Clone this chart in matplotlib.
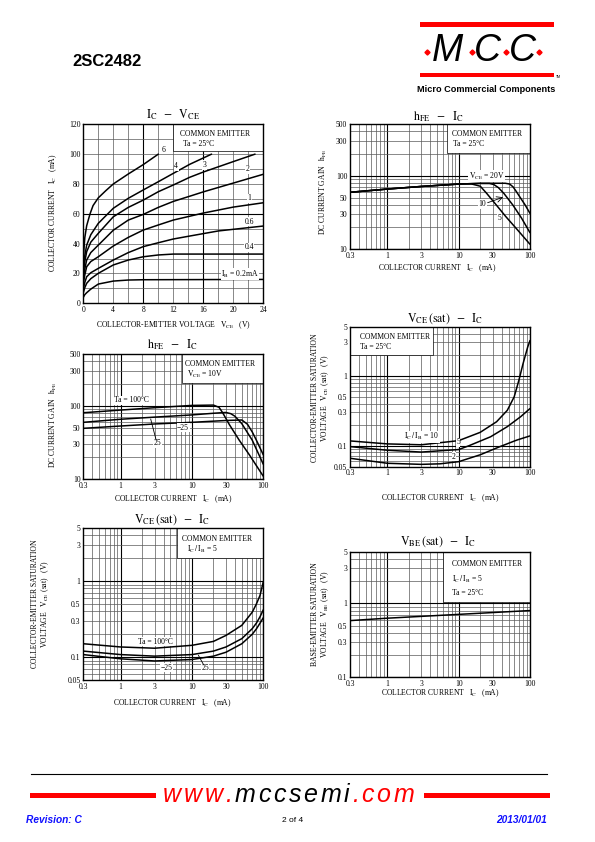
import matplotlib.pyplot as plt
from matplotlib.patches import Rectangle
from matplotlib.lines import Line2D
from matplotlib.ticker import NullLocator

plt.rcParams['font.family'] = ['Liberation Serif', 'DejaVu Serif']
plt.rcParams['mathtext.fontset'] = 'stix'

# ---------------- data ----------------
# IC - VCE, common emitter, Ta = 25C  (VCE in V, IC in mA)
vce_ib6 = [0, 0.2, 0.45, 0.9, 1.3, 2, 3, 4, 6, 8, 10]
ic_ib6 = [30, 44, 52, 60, 65.5, 70.7, 75.5, 80, 86.7, 93, 100]
vce_ib4 = [0, 0.2, 0.45, 1, 2, 4, 6, 8, 10, 12, 14.2, 17.1]
ic_ib4 = [24, 32, 39, 46, 53.6, 63.7, 70.4, 76, 81.5, 87.1, 93.2, 100]
vce_ib3 = [0, 0.2, 0.45, 1, 2, 4, 6, 8, 10, 12, 14.2, 16, 20, 22.9]
ic_ib3 = [20, 28, 34.6, 41, 46.9, 58, 64.3, 69.2, 74.8, 79.3, 84.5, 88, 95, 100]
vce_ib2 = [0, 0.2, 0.45, 1, 2, 4, 6, 8, 10, 12, 14.2, 16, 20, 24]
ic_ib2 = [16, 23, 29, 34, 39, 49, 55.8, 59.6, 64.3, 68.3, 71.8, 74.7, 80.6, 86.5]
vce_ib1 = [0, 0.2, 0.45, 1, 2, 4, 6, 8, 10, 12, 16, 20, 24]
ic_ib1 = [13, 19, 24.5, 28, 31.2, 38.4, 44.2, 49.1, 52.5, 55.8, 60.5, 64.5, 67.4]
vce_ib06 = [0, 0.2, 0.45, 1, 2, 4, 6, 8, 10, 12, 14.2, 18, 24]
ic_ib06 = [9.5, 14, 17.8, 20.5, 23.4, 29, 34, 38, 40.6, 43.1, 45.1, 48.5, 51.8]
vce_ib04 = [0, 0.2, 0.45, 1, 2, 4, 6, 8, 10, 12, 16, 24]
ic_ib04 = [7, 10.5, 13.4, 16.5, 20.1, 25.7, 29, 31.2, 32.4, 33, 33, 33]
vce_ib02 = [0, 0.2, 0.45, 1, 2, 4, 6, 8, 24]
ic_ib02 = [4, 5.8, 7.1, 9.5, 12.9, 14.9, 15.6, 15.8, 16]

# hFE - IC, Ta = 25C, for VCE = 5, 10, 20 V
ic_v5 = [0.3, 1, 3, 10, 15, 20.1, 24.7, 33.7, 46, 67, 100]
hfe_v5 = [59.5, 65.9, 71.5, 77, 77.5, 72, 57.6, 40, 27.7, 18.3, 11.7]
ic_v10 = [0.3, 1, 3, 10, 20, 27, 31, 36, 43, 58, 76, 100]
hfe_v10 = [59.5, 65.9, 71.5, 77.1, 78.7, 78.5, 76, 69, 57.6, 39.5, 26.6, 16.8]
ic_v20 = [0.3, 1, 3, 10, 20, 30, 45, 52, 58, 65, 72.5, 85, 100]
hfe_v20 = [59.5, 65.9, 71.5, 77.1, 78.7, 79, 79, 77, 70.4, 60, 51, 40.4, 30.8]

# VCE(sat) - IC, Ta = 25C, for IC/IB = 10, 5, 2
ic_r10 = [0.3, 1, 3, 10, 20, 34, 48, 60, 70, 80, 93, 100]
vsat_r10 = [0.117, 0.106, 0.103, 0.118, 0.155, 0.22, 0.32, 0.5, 0.87, 1.5, 2.6, 3.2]
ic_r5 = [0.3, 1, 3, 10, 14, 28, 48, 74, 100]
vsat_r5 = [0.097, 0.086, 0.081, 0.088, 0.1, 0.134, 0.187, 0.26, 0.34]
ic_r2 = [0.3, 1, 3, 5.5, 10, 20, 38, 65, 100]
vsat_r2 = [0.066, 0.056, 0.054, 0.055, 0.059, 0.074, 0.097, 0.12, 0.138]

# hFE - IC, VCE = 10V, for Ta = 100, 25, -25 C
ic_t100 = [0.3, 1, 3, 10, 20, 24, 27, 33.6, 46, 64, 100]
hfe_t100 = [80.3, 87.3, 94, 101, 102, 95, 80, 55, 34, 21.4, 11]
ic_t25 = [0.3, 1, 3, 10, 20, 30, 35, 40, 50, 70, 100]
hfe_t25 = [59.5, 65.5, 70, 75, 79, 81, 78, 72, 57, 34, 16]
ic_tm25 = [0.3, 1, 3, 10, 30, 50, 60, 70, 80, 100]
hfe_tm25 = [49.3, 53, 56.5, 59.5, 63, 64, 56, 44, 34, 21.5]

# VCE(sat) - IC, IC/IB = 5, for Ta = 100, 25, -25 C
ic_s = [0.3, 1, 3, 10, 20, 30, 50, 70, 80, 90, 100]
vsat_t100 = [0.150, 0.136, 0.131, 0.143, 0.161, 0.193, 0.262, 0.39, 0.5, 0.65, 0.98]
vsat_t25 = [0.12, 0.108, 0.103, 0.108, 0.12, 0.136, 0.175, 0.237, 0.28, 0.34, 0.42]
vsat_tm25 = [0.108, 0.095, 0.089, 0.093, 0.103, 0.116, 0.15, 0.2, 0.235, 0.28, 0.33]

# VBE(sat) - IC, IC/IB = 5, Ta = 25C
ic_vbe = [0.3, 1, 10, 100]
vbe_sat = [0.584, 0.63, 0.71, 0.80]

# tick labels
ic_ticks = [0.3, 1, 3, 10, 30, 100]
ic_ticklabels = ['0.3', '1', '3', '10', '30', '100']
hfe_ticks = [10, 30, 50, 100, 300, 500]
vsat_ticks = [0.05, 0.1, 0.3, 0.5, 1, 3, 5]
vbe_ticks = [0.1, 0.3, 0.5, 1, 3, 5]

# ---------------- page helpers ----------------
W, H = 595, 842
fig = plt.figure(figsize=(W / 100, H / 100), dpi=100)
fig.patch.set_facecolor('white')


def page_axes(l, t, r, b):
    ax = fig.add_axes([l / W, 1 - b / H, (r - l) / W, (b - t) / H])
    ax.pix = (l, t, r, b)
    for s in ax.spines.values():
        s.set_linewidth(1.0)
    ax.tick_params(length=0, pad=2, labelsize=5.5)
    return ax


def ftext(x, y, s, **kw):
    return fig.text(x / W, 1 - y / H, s, **kw)


def frect(l, t, r, b, color):
    fig.add_artist(Rectangle((l / W, 1 - b / H), (r - l) / W, (b - t) / H,
                             transform=fig.transFigure, fc=color, ec='none'))


def log_values(lo, hi):
    vals = []
    for dec in [0.01, 0.1, 1, 10, 100]:
        for m in range(1, 10):
            v = round(m * dec, 6)
            if lo - 1e-9 <= v <= hi + 1e-9:
                vals.append(v)
    return vals


def log_setup(ax, xlo, xhi, ylo, yhi, yticks):
    ax.set_xscale('log')
    ax.set_yscale('log')
    ax.set_xlim(xlo, xhi)
    ax.set_ylim(ylo, yhi)
    for v in log_values(xlo, xhi):
        major = v in (1, 10, 100)
        ax.axvline(v, color='0.0' if major else '0.35', lw=0.8 if major else 0.5, zorder=1)
    for v in log_values(ylo, yhi):
        major = v in (0.1, 1, 10, 100)
        ax.axhline(v, color='0.0' if major else '0.35', lw=0.8 if major else 0.5, zorder=1)
    ax.xaxis.set_minor_locator(NullLocator())
    ax.yaxis.set_minor_locator(NullLocator())
    ax.set_xticks(ic_ticks)
    ax.set_xticklabels(ic_ticklabels)
    ax.set_yticks(yticks)
    ax.set_yticklabels([('%g' % v) for v in yticks])


def legend_box(ax, l, t, r, b):
    al, at, ar, ab = ax.pix
    ax.add_patch(Rectangle(((l - al) / (ar - al), (ab - b) / (ab - at)),
                           (r - l) / (ar - al), (b - t) / (ab - at),
                           transform=ax.transAxes, fc='white', ec='black',
                           lw=0.5, zorder=2))


def curve(ax, x, y):
    ax.plot(x, y, color='black', lw=1.1, zorder=3, solid_capstyle='round')


lab = dict(fontsize=5.5, ha='center', va='center', zorder=4,
           bbox=dict(fc='white', ec='none', pad=0.4))
small = dict(fontsize=5.5, ha='left', va='center')
xlab_kw = dict(fontsize=5.5, ha='center', va='center')
ylab_kw = dict(fontsize=5.5, ha='center', va='center', rotation=90)
title_kw = dict(fontsize=8.5, ha='center', va='center')

IC_LABEL = 'COLLECTOR CURRENT   ' + r'$\mathrm{I_C}$' + '   (mA)'

# ---------------- chart 1: IC - VCE ----------------
ax1 = page_axes(83.3, 124.3, 263.3, 303.3)
ax1.set_xlim(0, 24)
ax1.set_ylim(0, 120)
for v in range(2, 24, 2):
    ax1.axvline(v, color='0.0' if v in (8, 16) else '0.35', lw=0.8 if v in (8, 16) else 0.5, zorder=1)
for v in range(10, 120, 10):
    ax1.axhline(v, color='0.0' if v == 60 else '0.35', lw=0.8 if v == 60 else 0.5, zorder=1)
ax1.set_xticks(range(0, 25, 4))
ax1.set_yticks(range(0, 121, 20))
legend_box(ax1, 173, 124.3, 263.3, 151)
for x, y in [(vce_ib6, ic_ib6), (vce_ib4, ic_ib4), (vce_ib3, ic_ib3), (vce_ib2, ic_ib2),
             (vce_ib1, ic_ib1), (vce_ib06, ic_ib06), (vce_ib04, ic_ib04), (vce_ib02, ic_ib02)]:
    curve(ax1, x, y)
ax1.text(10.7, 102.8, '6', **lab)
ax1.text(12.4, 92, '4', **lab)
ax1.text(16.2, 92.7, '3', **lab)
ax1.text(21.9, 89.8, '2', **lab)
ax1.text(22.1, 70.4, '1', **lab)
ax1.text(22.1, 54.7, '0.6', **lab)
ax1.text(22.1, 37.5, '0.4', **lab)
ax1.text(20.9, 19.6, r'$\mathrm{I_B}$' + ' = 0.2mA', **lab)
ftext(215, 134, 'COMMON EMITTER', fontsize=5.5, ha='center', va='center')
ftext(183, 144, 'Ta = 25°C', **small)
ftext(173, 115, r'$\mathrm{I_C\ \ -\ \ V_{CE}}$', **title_kw)
ftext(53, 213, 'COLLECTOR CURRENT   ' + r'$\mathrm{I_C}$' + '   (mA)', **ylab_kw)
ftext(173, 325, 'COLLECTOR-EMITTER VOLTAGE   ' + r'$\mathrm{V_{CE}}$' + '   (V)', **xlab_kw)

# ---------------- chart 2: hFE - IC (VCE) ----------------
ax2 = page_axes(350, 124.3, 530, 249.3)
log_setup(ax2, 0.3, 100, 10, 500, hfe_ticks)
legend_box(ax2, 447, 124.3, 530, 153)
curve(ax2, ic_v5, hfe_v5)
curve(ax2, ic_v10, hfe_v10)
curve(ax2, ic_v20, hfe_v20)
ax2.text(24.9, 98.9, r'$\mathrm{V_{CE}}$' + ' = 20V', **lab)
ax2.text(21.6, 41.3, '10', **lab)
ax2.text(37.1, 26.9, '5', **lab)
ax2.annotate('', xy=(42, 51), xytext=(25.5, 43),
             arrowprops=dict(arrowstyle='->', lw=0.6, color='black', shrinkA=0, shrinkB=0), zorder=4)
ftext(487, 134, 'COMMON EMITTER', fontsize=5.5, ha='center', va='center')
ftext(453, 144, 'Ta = 25°C', **small)
ftext(438, 117, r'$\mathrm{h_{FE}\ \ -\ \ I_C}$', **title_kw)
ftext(323, 192, 'DC CURRENT GAIN   ' + r'$\mathrm{h_{FE}}$', **ylab_kw)
ftext(437, 268, IC_LABEL, **xlab_kw)

# ---------------- chart 3: VCE(sat) - IC (IC/IB) ----------------
ax3 = page_axes(350, 327, 530, 466.7)
log_setup(ax3, 0.3, 100, 0.05, 5, vsat_ticks)
legend_box(ax3, 350, 327, 433, 355)
curve(ax3, ic_r10, vsat_r10)
curve(ax3, ic_r5, vsat_r5)
curve(ax3, ic_r2, vsat_r2)
ax3.text(3.03, 0.134, r'$\mathrm{I_C\,/\,I_B}$' + ' = 10', **lab)
ax3.text(9.8, 0.112, '5', **lab)
ax3.text(8.6, 0.069, '2', **lab)
ftext(360, 337, 'COMMON EMITTER', **small)
ftext(360, 347, 'Ta = 25°C', **small)
ftext(445, 319, r'$\mathrm{V_{CE}\,(sat)\ \ -\ \ I_C}$', **title_kw)
ftext(315, 398, 'COLLECTOR-EMITTER SATURATION', **ylab_kw)
ftext(325, 398, 'VOLTAGE   ' + r'$\mathrm{V_{CE}}$' + ' (sat)   (V)', **ylab_kw)
ftext(440, 497.7, IC_LABEL, **xlab_kw)

# ---------------- chart 4: hFE - IC (Ta) ----------------
ax4 = page_axes(83.3, 354.3, 263.3, 479.3)
log_setup(ax4, 0.3, 100, 10, 500, hfe_ticks)
legend_box(ax4, 182, 354.3, 263.3, 383)
curve(ax4, ic_t100, hfe_t100)
curve(ax4, ic_t25, hfe_t25)
curve(ax4, ic_tm25, hfe_tm25)
ax4.text(1.43, 119, 'Ta = 100°C', **lab)
ax4.text(7.5, 49.9, '\u221225', **lab)
ax4.text(3.3, 31.1, '25', **lab)
ax4.annotate('', xy=(2.64, 66), xytext=(3.15, 34),
             arrowprops=dict(arrowstyle='-', lw=0.6, color='black', shrinkA=0, shrinkB=0), zorder=4)
ftext(220, 364, 'COMMON EMITTER', fontsize=5.5, ha='center', va='center')
ftext(187, 374, r'$\mathrm{V_{CE}}$' + ' = 10V', **small)
ftext(172, 345, r'$\mathrm{h_{FE}\ \ -\ \ I_C}$', **title_kw)
ftext(53, 425, 'DC CURRENT GAIN   ' + r'$\mathrm{h_{FE}}$', **ylab_kw)
ftext(173, 499, IC_LABEL, **xlab_kw)

# ---------------- chart 5: VCE(sat) - IC (Ta) ----------------
ax5 = page_axes(83.3, 528, 263.3, 680)
log_setup(ax5, 0.3, 100, 0.05, 5, vsat_ticks)
legend_box(ax5, 177, 528, 263.3, 558)
curve(ax5, ic_s, vsat_t100)
curve(ax5, ic_s, vsat_t25)
curve(ax5, ic_s, vsat_tm25)
ax5.text(3.04, 0.16, 'Ta = 100°C', **lab)
ax5.text(4.4, 0.0727, '\u221225', **lab)
ax5.text(15.3, 0.071, '25', **lab)
ax5.annotate('', xy=(12.3, 0.106), xytext=(14.6, 0.079),
             arrowprops=dict(arrowstyle='-', lw=0.6, color='black', shrinkA=0, shrinkB=0), zorder=4)
ftext(217, 539, 'COMMON EMITTER', fontsize=5.5, ha='center', va='center')
ftext(187, 549, r'$\mathrm{I_C\,/\,I_B}$' + ' = 5', **small)
ftext(172, 520, r'$\mathrm{V_{CE}\,(sat)\ \ -\ \ I_C}$', **title_kw)
ftext(35, 604, 'COLLECTOR-EMITTER SATURATION', **ylab_kw)
ftext(45, 604, 'VOLTAGE   ' + r'$\mathrm{V_{CE}}$' + ' (sat)   (V)', **ylab_kw)
ftext(172, 702.7, IC_LABEL, **xlab_kw)

# ---------------- chart 6: VBE(sat) - IC ----------------
ax6 = page_axes(350, 552, 530, 677)
log_setup(ax6, 0.3, 100, 0.1, 5, vbe_ticks)
legend_box(ax6, 443, 552, 530, 602)
curve(ax6, ic_vbe, vbe_sat)
ftext(487, 564, 'COMMON EMITTER', fontsize=5.5, ha='center', va='center')
ftext(452, 579, r'$\mathrm{I_C\,/\,I_B}$' + ' = 5', **small)
ftext(452, 593, 'Ta = 25°C', **small)
ftext(438, 542, r'$\mathrm{V_{BE}\,(sat)\ \ -\ \ I_C}$', **title_kw)
ftext(315, 614, 'BASE-EMITTER SATURATION', **ylab_kw)
ftext(325, 614, 'VOLTAGE   ' + r'$\mathrm{V_{BE}}$' + ' (sat)   (V)', **ylab_kw)
ftext(440, 692.7, IC_LABEL, **xlab_kw)

# ---------------- page header ----------------
sans = ['Liberation Sans', 'DejaVu Sans']
ftext(72, 62, '2SC2482', family=sans, fontsize=12, weight='bold', ha='left', va='center')
frect(420, 22, 554, 26.7, '#ff0000')
frect(420, 72.7, 554, 77.3, '#ff0000')
for x, ch in [(447, 'M'), (487.5, 'C'), (522.5, 'C')]:
    ftext(x, 51, ch, family=sans, fontsize=27, style='italic', ha='center', va='center')
for x in [427, 471.7, 505.9, 538.9]:
    fig.add_artist(Line2D([x / W], [1 - 51.7 / H], marker='D', ms=2.6, color='#ff0000',
                          transform=fig.transFigure))
ftext(558, 77, 'TM', family=sans, fontsize=2.5, ha='center', va='center')
ftext(486.5, 90, 'Micro Commercial Components', family=sans, fontsize=6.6, weight='bold',
      ha='center', va='center')

# ---------------- page footer ----------------
fig.add_artist(Line2D([31 / W, 546.5 / W], [1 - 774 / H, 1 - 774 / H], color='black', lw=0.8,
                      transform=fig.transFigure))
frect(30.4, 793.3, 155.6, 798.3, '#ff0000')
frect(424, 793.3, 549.5, 798.3, '#ff0000')

# spaced-out web address, letter by letter
url = 'www.mccsemi.com'
url_colors = ['#ff0000'] * 4 + ['black'] * 7 + ['#ff0000'] * 4
renderer = fig.canvas.get_renderer()
pieces = []
for ch, c in zip(url, url_colors):
    t = ftext(0, 801.5, ch, family=sans, fontsize=18, style='italic', color=c,
              ha='left', va='baseline')
    pieces.append(t)
widths = [t.get_window_extent(renderer).width for t in pieces]
gap = (414 - 163 - sum(widths)) / (len(url) - 1)
x = 163
for t, w in zip(pieces, widths):
    t.set_x(x / W)
    x += w + gap

ftext(25.8, 820, 'Revision: C', family=sans, fontsize=7.3, weight='bold', style='italic',
      color='#1010ff', ha='left', va='center')
ftext(293, 820, '2 of 4', family=sans, fontsize=6, ha='center', va='center')
ftext(546.5, 820, '2013/01/01', family=sans, fontsize=7.3, weight='bold', style='italic',
      color='#1010ff', ha='right', va='center')

fig.savefig('out.png', dpi=100)
